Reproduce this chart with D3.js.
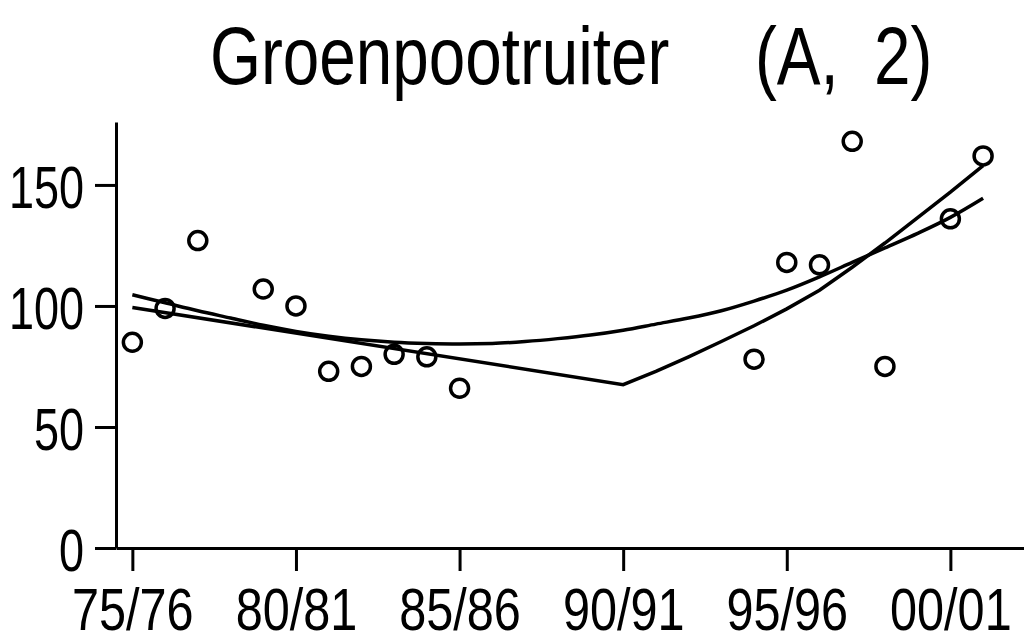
<!DOCTYPE html>
<html lang="nl">
<head>
  <meta charset="utf-8">
  <title>Groenpootruiter (A, 2)</title>
  <script src="https://d3js.org/d3.v7.min.js"></script>
  <style>
    body { margin: 0; background: #fff; }
    svg { display: block; }
    text { font-family: "Liberation Sans", Arimo, sans-serif; fill: #000; }
    .axis path, .axis line { stroke: #000; stroke-width: 3; }
    .axis text { font-size: 60px; }
    .fit { fill: none; stroke: #000; stroke-width: 3.5; }
    .obs { fill: none; stroke: #000; stroke-width: 3.5; }
  </style>
</head>
<body>
<script>
  // observed counts per season (start year of the season)
  const seasons = [1975, 1976, 1977, 1979, 1980, 1981, 1982, 1983, 1984, 1985,
                   1994, 1995, 1996, 1997, 1998, 2000, 2001];
  const counts = [85, 99, 127, 107, 100, 73, 75, 80, 79, 66,
                  78, 118, 117, 168, 75, 136, 162];

  // smooth trend curve per season
  const trendSeasons = d3.range(1975, 2002);
  const trendValues = [104.6, 101.3, 98, 95, 92, 89.5, 87.5, 86, 85, 84.5,
                       84.3, 84.5, 85.3, 86.5, 88, 90, 92.5, 95, 98, 102,
                       106.5, 112, 118, 124, 130, 136.6, 144.5];

  // broken-line trend (straight down to 90/91, then rising)
  const brokenSeasons = [1975, 1990, 1991, 1992, 1993, 1994, 1995, 1996,
                         1997, 1998, 1999, 2000, 2001];
  const brokenValues = [99.4, 67.5, 73, 79, 85.3, 91.8, 98.8, 106.5,
                        116, 126, 136.5, 147, 158];

  const tickSeasons = [1975, 1980, 1985, 1990, 1995, 2000];
  const tickLabels = ["75/76", "80/81", "85/86", "90/91", "95/96", "00/01"];
  const yTicks = [0, 50, 100, 150];

  const width = 1024, height = 644;
  // the original lettering is a narrow face, so squeeze Liberation Sans
  const squeeze = 0.81;
  const squeezeY = 0.75;

  const svg = d3.select("body").append("svg")
    .attr("width", width)
    .attr("height", height);

  const x = d3.scaleLinear()
    .domain([1974.5, 2002.25])
    .range([116, 1024]);

  const y = d3.scaleLinear()
    .domain([0, 176])
    .range([548, 122]);

  // title
  const title = svg.append("text")
    .attr("transform", `scale(${squeeze},1)`)
    .attr("y", 84)
    .style("font-size", "81px");
  title.append("tspan").attr("x", 210 / squeeze).text("Groenpootruiter ");
  title.append("tspan").attr("x", 755 / squeeze).text("(A, ");
  title.append("tspan").attr("x", 874 / squeeze).text("2)");

  // axes
  svg.append("g")
    .attr("class", "axis x")
    .attr("transform", "translate(0," + y(0) + ")")
    .call(d3.axisBottom(x)
      .tickValues(tickSeasons)
      .tickFormat((d, i) => tickLabels[i])
      .tickSize(23)
      .tickSizeOuter(0)
      .tickPadding(16));

  svg.append("g")
    .attr("class", "axis y")
    .attr("transform", "translate(116,0)")
    .call(d3.axisLeft(y)
      .tickValues(yTicks)
      .tickSize(21)
      .tickSizeOuter(0)
      .tickPadding(11));

  svg.selectAll(".axis").attr("font-family", null).attr("font-size", null);

  svg.selectAll(".axis.x text")
    .attr("transform", `scale(${squeeze},1)`);

  svg.selectAll(".axis.y text")
    .attr("transform", `scale(${squeezeY},1)`)
    .attr("x", -32 / squeezeY)
    .attr("dy", "0.37em");

  // fitted lines
  const trendLine = d3.line()
    .x((d, i) => x(trendSeasons[i]))
    .y(d => y(d))
    .curve(d3.curveMonotoneX);

  svg.append("path")
    .attr("class", "fit")
    .attr("d", trendLine(trendValues));

  const brokenLine = d3.line()
    .x((d, i) => x(brokenSeasons[i]))
    .y(d => y(d));

  svg.append("path")
    .attr("class", "fit")
    .attr("d", brokenLine(brokenValues));

  // observations
  svg.selectAll(".obs")
    .data(counts)
    .enter().append("circle")
    .attr("class", "obs")
    .attr("cx", (d, i) => x(seasons[i]))
    .attr("cy", d => y(d))
    .attr("r", 9);
</script>
</body>
</html>
